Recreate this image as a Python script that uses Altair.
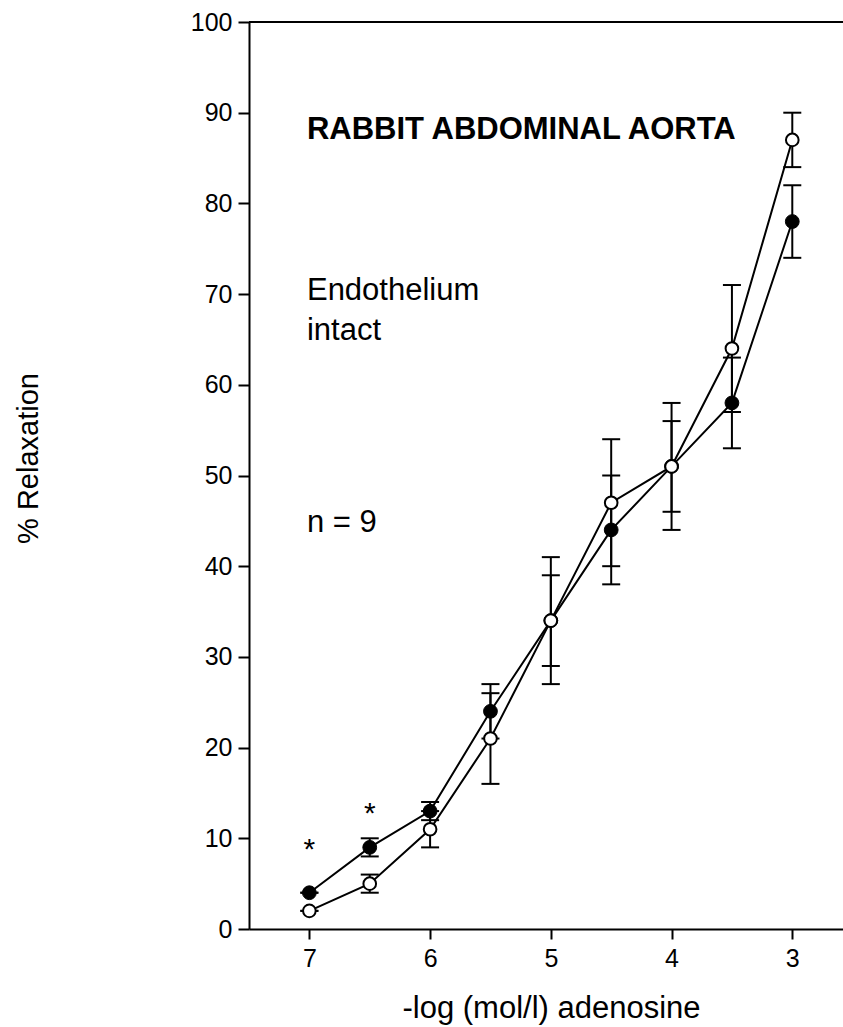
import altair as alt
import pandas as pd

# Concentration steps (-log mol/l) and mean % relaxation with SEM
log_conc = [7, 6.5, 6, 5.5, 5, 4.5, 4, 3.5, 3]
filled_mean = [4, 9, 13, 24, 34, 44, 51, 58, 78]
filled_sem = [0, 1, 1, 3, 5, 6, 7, 5, 4]
open_mean = [2, 5, 11, 21, 34, 47, 51, 64, 87]
open_sem = [0, 1, 2, 5, 7, 7, 5, 7, 3]

y_ticks = list(range(0, 101, 10))
x_ticks = [7, 6, 5, 4, 3]

# Text placed inside the panel
title_text = ["RABBIT ABDOMINAL AORTA"]
title_x = [7.02]
title_y = [87.1]

note_text = ["Endothelium", "intact", "n = 9"]
note_x = [7.02, 7.02, 7.02]
note_y = [69.3, 64.9, 43.8]

# Significance markers above the first two concentrations
star_x = [7, 6.5]
star_y = [7.7, 11.7]

FONT = "Liberation Sans"

rows = []
for name, means, sems in (("filled", filled_mean, filled_sem), ("open", open_mean, open_sem)):
    for xv, m, s in zip(log_conc, means, sems):
        rows.append({"series": name, "x": xv, "y": m, "lo": m - s, "hi": m + s})
df = pd.DataFrame(rows)

titles = pd.DataFrame({"x": title_x, "y": title_y, "text": title_text})
notes = pd.DataFrame({"x": note_x, "y": note_y, "text": note_text})
stars = pd.DataFrame({"x": star_x, "y": star_y, "text": ["*", "*"]})

x_scale = alt.Scale(domain=[2.58, 7.5], reverse=True, nice=False, zero=False)
y_scale = alt.Scale(domain=[0, 100], nice=False)

x_enc = alt.X("x:Q", scale=x_scale, axis=alt.Axis(
    values=x_ticks, format="d", title="-log (mol/l) adenosine", grid=False,
    tickSize=10, tickWidth=2, tickColor="black",
    domainWidth=2, domainColor="black",
    labelFont=FONT, labelFontSize=25, labelColor="black", labelPadding=7,
    titleFont=FONT, titleFontSize=31, titleFontWeight="normal", titleColor="black",
    titleX=302, titleY=88, titleAlign="center", titleBaseline="alphabetic"))
y_enc = alt.Y("y:Q", scale=y_scale, axis=alt.Axis(
    values=y_ticks, format="d", title="% Relaxation", grid=False,
    tickSize=11, tickWidth=2, tickColor="black",
    domainWidth=2, domainColor="black",
    labelFont=FONT, labelFontSize=25, labelColor="black", labelPadding=6,
    titleFont=FONT, titleFontSize=29, titleFontWeight="normal", titleColor="black",
    titleAngle=270, titleX=-212, titleY=436, titleAlign="center",
    titleBaseline="alphabetic"))

base = alt.Chart(df)

lines = base.mark_line(color="black", strokeWidth=2).encode(
    x=x_enc, y=y_enc, detail="series:N", order="x:Q")

err_rules = base.mark_rule(color="black", strokeWidth=2).encode(
    x="x:Q", y="lo:Q", y2="hi:Q")
cap_lo = base.mark_tick(color="black", orient="horizontal", size=18,
                        thickness=2, opacity=1).encode(x="x:Q", y="lo:Q")
cap_hi = base.mark_tick(color="black", orient="horizontal", size=18,
                        thickness=2, opacity=1).encode(x="x:Q", y="hi:Q")

filled_pts = alt.Chart(df[df.series == "filled"]).mark_point(
    shape="circle", filled=True, fill="black", stroke="black", strokeWidth=1,
    size=190, opacity=1).encode(x="x:Q", y="y:Q")
open_pts = alt.Chart(df[df.series == "open"]).mark_point(
    shape="circle", filled=True, fill="white", stroke="black", strokeWidth=2,
    size=160, opacity=1).encode(x="x:Q", y="y:Q")

top_frame = alt.Chart(pd.DataFrame({"y": [100]})).mark_rule(
    color="black", strokeWidth=2).encode(y="y:Q")

title_layer = alt.Chart(titles).mark_text(
    align="left", baseline="alphabetic", font=FONT, fontSize=31,
    fontWeight="bold", color="black").encode(x="x:Q", y="y:Q", text="text:N")

note_layer = alt.Chart(notes).mark_text(
    align="left", baseline="alphabetic", font=FONT, fontSize=31,
    color="black").encode(x="x:Q", y="y:Q", text="text:N")

star_layer = alt.Chart(stars).mark_text(
    align="center", baseline="alphabetic", font=FONT, fontSize=30,
    color="black").encode(x="x:Q", y="y:Q", text="text:N")

chart = alt.layer(
    top_frame, lines, err_rules, cap_lo, cap_hi, filled_pts, open_pts,
    title_layer, note_layer, star_layer
).properties(
    width=594, height=907,
    autosize=alt.AutoSizeParams(type="none"),
    padding={"left": 249, "top": 22, "right": 0, "bottom": 98},
    background="white"
).configure_view(stroke=None)

chart.save("out.html", embed_options={"renderer": "svg", "actions": False})
